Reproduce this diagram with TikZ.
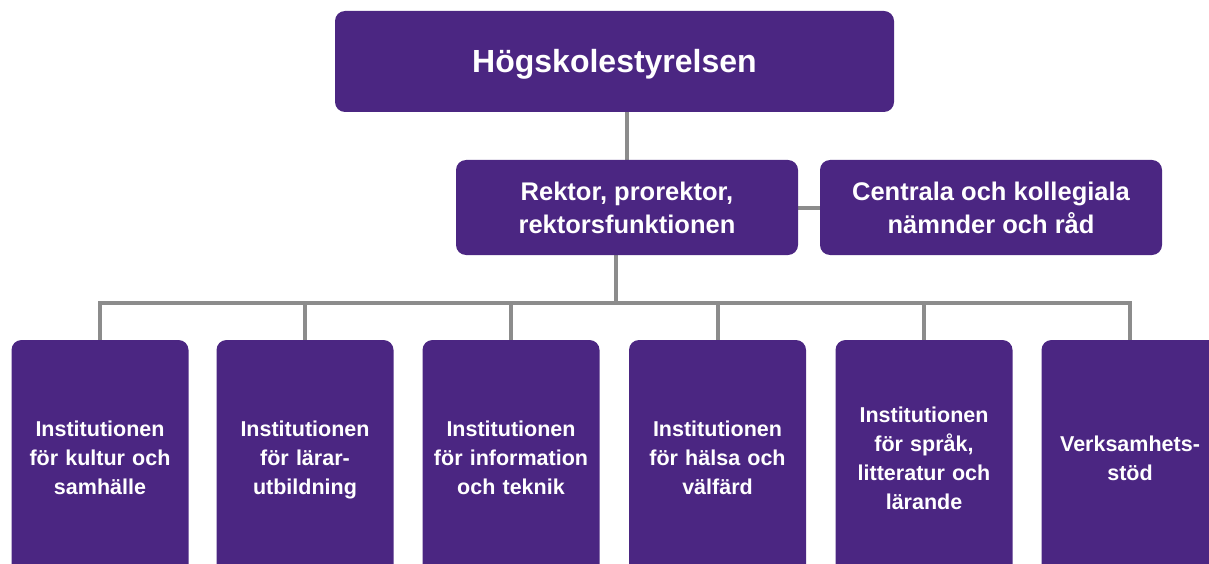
\documentclass[tikz,border=0pt]{standalone}
\usepackage{fontspec}
\setmainfont{Liberation Sans}
\usetikzlibrary{backgrounds}
% tall strut for the first line of each box label
\newcommand{\firstline}{\rule{0pt}{0.9\baselineskip}}
\begin{document}
\begin{tikzpicture}[x=1pt,y=-1pt,
  every node/.style={inner sep=0pt, outer sep=0pt},
  unit/.style={fill=orgpurple, rounded corners=10pt, text=white, align=center,
    font=\bfseries},
  board/.style={unit, minimum width=559pt, minimum height=101pt,
    font=\bfseries\fontsize{32}{38}\selectfont},
  office/.style={unit, minimum width=342pt, minimum height=95pt,
    font=\bfseries\fontsize{25.5}{33}\selectfont},
  dept/.style={unit, text width=177pt, minimum height=234pt,
    font=\bfseries\fontsize{21.5}{29}\selectfont},
  link/.style={draw=linkgray, line width=4pt, line join=miter}]
\definecolor{orgpurple}{HTML}{4B2682}
\definecolor{linkgray}{HTML}{8C8C8C}
\useasboundingbox (0,0) rectangle (1209,564);
\clip (0,0) rectangle (1209,564);

% top level
\node[board] (board) at (614.5,61.5) {\firstline Högskolestyrelsen\strut};
% management level
\node[office] (rektor) at (627,207.5) {\firstline Rektor, prorektor,\\rektorsfunktionen\strut};
\node[office] (centrala) at (991,207.5) {\firstline Centrala och kollegiala\\nämnder och råd\strut};
% departments
\node[dept] (d1) at (100,457) {\firstline Institutionen\\för kultur och\\samhälle\strut};
\node[dept] (d2) at (305,457) {\firstline Institutionen\\för lärar-\\utbildning\strut};
\node[dept] (d3) at (511,457) {\firstline Institutionen\\för information\\och teknik\strut};
\node[dept] (d4) at (717.5,457) {\firstline Institutionen\\för hälsa och\\välfärd\strut};
\node[dept] (d5) at (924,457) {\firstline Institutionen\\för språk,\\litteratur och\\lärande\strut};
\node[dept] (d6) at (1130,457) {\firstline Verksamhets-\\stöd\strut};

\coordinate (bus) at (616,303);

% connectors, behind the boxes
\begin{scope}[on background layer]
  \draw[link] (rektor.north) -- (rektor.north |- board.south);
  \draw[link] (rektor.east) -- (centrala.west);
  \draw[link] (bus |- rektor.south) -- (bus);
  \draw[link] (d1.north) |- (bus) -| (d6.north);
  \foreach \d in {d2,d3,d4,d5}
    \draw[link] (\d.north) -- (\d.north |- bus);
\end{scope}
\end{tikzpicture}
\end{document}
